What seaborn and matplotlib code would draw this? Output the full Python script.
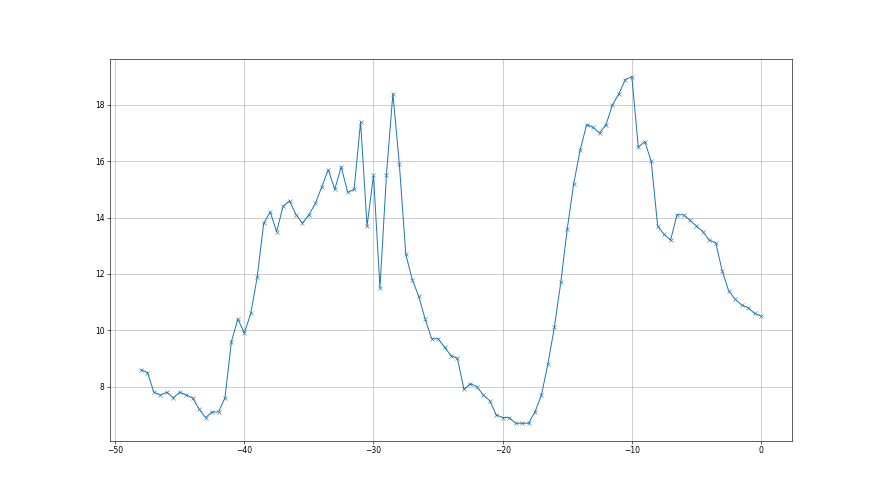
import pandas as pd
import matplotlib
matplotlib.use("Agg")
import matplotlib.pyplot as plt
import seaborn as sns

# x positions, every half unit from -48 to 0
x_vals = [i * 0.5 for i in range(-96, 1)]

y_vals = [
    8.6, 8.5, 7.8, 7.7, 7.8, 7.6, 7.8, 7.7, 7.6, 7.2,
    6.9, 7.1, 7.1, 7.6, 9.6, 10.4, 9.9, 10.6, 11.9, 13.8,
    14.2, 13.5, 14.4, 14.6, 14.1, 13.8, 14.1, 14.5, 15.1, 15.7,
    15.0, 15.8, 14.9, 15.0, 17.4, 13.7, 15.5, 11.5, 15.5, 18.4,
    15.9, 12.7, 11.8, 11.2, 10.4, 9.7, 9.7, 9.4, 9.1, 9.0,
    7.9, 8.1, 8.0, 7.7, 7.5, 7.0, 6.9, 6.9, 6.7, 6.7,
    6.7, 7.1, 7.7, 8.8, 10.1, 11.7, 13.6, 15.2, 16.4, 17.3,
    17.2, 17.0, 17.3, 18.0, 18.4, 18.9, 19.0, 16.5, 16.7, 16.0,
    13.7, 13.4, 13.2, 14.1, 14.1, 13.9, 13.7, 13.5, 13.2, 13.1,
    12.1, 11.4, 11.1, 10.9, 10.8, 10.6, 10.5,
]

df = pd.DataFrame({"x": x_vals, "y": y_vals})

fig, ax = plt.subplots(figsize=(16, 9), dpi=55)
sns.lineplot(data=df, x="x", y="y", marker="x", markeredgecolor="#1f77b4",
             markersize=5, linewidth=1.3, ax=ax)
ax.grid(True)
ax.set_xlabel("")
ax.set_ylabel("")

plt.savefig("out.png")
